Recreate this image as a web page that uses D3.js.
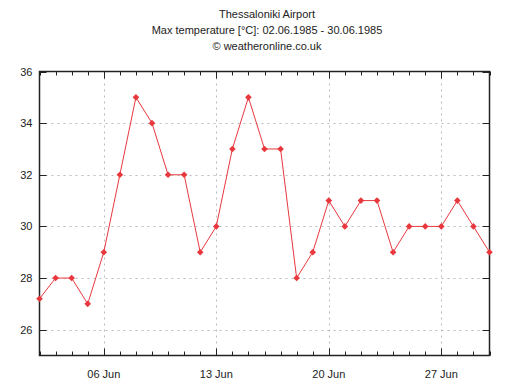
<!DOCTYPE html>
<html><head><meta charset="utf-8">
<script src="https://cdn.jsdelivr.net/npm/d3@7"></script>
<style>body{margin:0;background:#fff}svg{display:block}</style>
</head><body>
<script>
const days = d3.range(2, 31);
const temps = [27.2,28,28,27,29,32,35,34,32,32,29,30,33,35,33,33,28,29,31,30,31,31,29,30,30,30,31,30,29];
const titleLines = ["Thessaloniki Airport","Max temperature [°C]: 02.06.1985 - 30.06.1985","© weatheronline.co.uk"];
const yTicks = [26,28,30,32,34,36];
const xMajor = [6,13,20,27];
const xLabels = ["06 Jun","13 Jun","20 Jun","27 Jun"];

const W=514,H=383, L=39.5, R=489.5, T=71.5, B=355.5;
const svg=d3.select("body").append("svg").attr("width",W).attr("height",H)
  .style("font-family","'Liberation Sans', Arial, sans-serif");
const x=d3.scaleLinear().domain([2,30]).range([L,R]);
const y=d3.scaleLinear().domain([25,36]).range([B,T]);

svg.selectAll("text.t").data(titleLines).enter().append("text")
  .attr("x",W/2+10).attr("y",(d,i)=>18+i*16).attr("text-anchor","middle")
  .attr("font-size",11).attr("fill","#222").text(d=>d);

// grid
const g=svg.append("g");
g.selectAll("line.gy").data(yTicks.filter(v=>v<36)).enter().append("line")
  .attr("x1",L).attr("x2",R).attr("y1",d=>Math.round(y(d))+0.5).attr("y2",d=>Math.round(y(d))+0.5)
  .attr("stroke","#bbb").attr("stroke-dasharray","2,4");
g.selectAll("line.gx").data(xMajor).enter().append("line")
  .attr("y1",T).attr("y2",B).attr("x1",d=>Math.round(x(d))+0.5).attr("x2",d=>Math.round(x(d))+0.5)
  .attr("stroke","#bbb").attr("stroke-dasharray","2,4");

// ticks
const tk=svg.append("g").attr("stroke","#222").attr("stroke-width",1);
days.forEach(d=>{
  const len = xMajor.includes(d)?7:4;
  const xx=Math.round(x(d))+0.5;
  tk.append("line").attr("x1",xx).attr("x2",xx).attr("y1",B).attr("y2",B-len);
  tk.append("line").attr("x1",xx).attr("x2",xx).attr("y1",T).attr("y2",T+len);
});
yTicks.forEach(v=>{
  const yy=Math.round(y(v))+0.5;
  tk.append("line").attr("x1",L).attr("x2",L+7).attr("y1",yy).attr("y2",yy);
  tk.append("line").attr("x1",R).attr("x2",R-7).attr("y1",yy).attr("y2",yy);
});

// frame
svg.append("rect").attr("x",L).attr("y",T).attr("width",R-L).attr("height",B-T)
  .attr("fill","none").attr("stroke","#222").attr("stroke-width",1.5);

// labels
svg.selectAll("text.yl").data(yTicks).enter().append("text")
  .attr("x",L-7).attr("y",d=>y(d)+4).attr("text-anchor","end").attr("font-size",11).attr("fill","#222").text(d=>d);
svg.selectAll("text.xl").data(xMajor).enter().append("text")
  .attr("x",d=>x(d)).attr("y",378).attr("text-anchor","middle").attr("font-size",11).attr("fill","#222")
  .text((d,i)=>xLabels[i]);

// line
const line=d3.line().x((d,i)=>x(days[i])).y(d=>y(d));
svg.append("path").datum(temps).attr("d",line).attr("fill","none").attr("stroke","#e8383d").attr("stroke-width",1);
svg.selectAll("path.m").data(temps).enter().append("path")
  .attr("d",d3.symbol(d3.symbolDiamond2,28)).attr("transform",(d,i)=>`translate(${x(days[i])},${y(d)})`)
  .attr("fill","#e8383d");
</script>
</body></html>
